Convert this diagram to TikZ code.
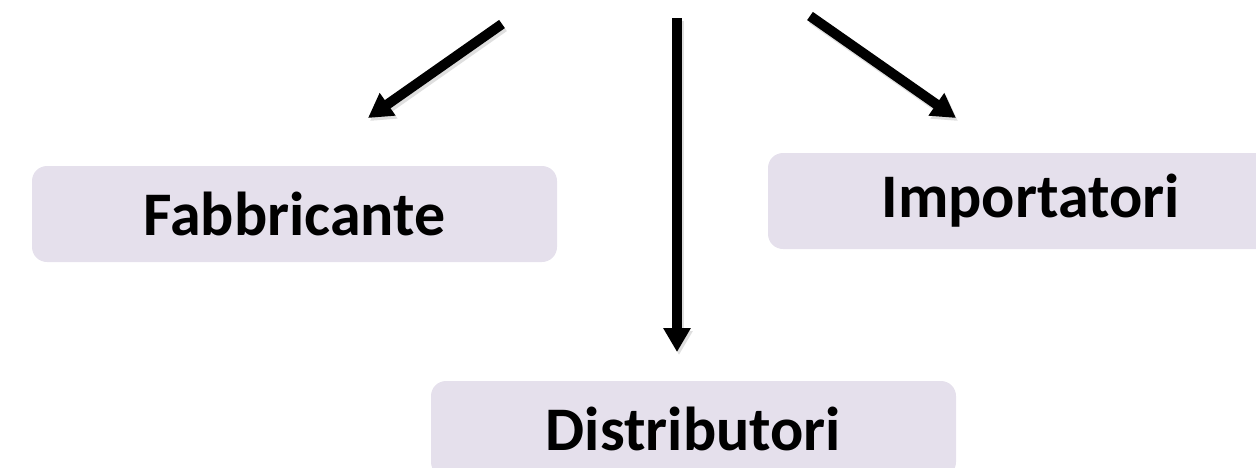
\documentclass[tikz,border=0pt]{standalone}
\usepackage{fontspec}
\setmainfont{Carlito}
\usetikzlibrary{arrows.meta}
\definecolor{boxfill}{RGB}{229,224,236}
\begin{document}
\begin{tikzpicture}[x=1pt,y=-1pt,
  box/.style={fill=boxfill,rounded corners=15pt,minimum width=525pt,minimum height=96pt,inner sep=0pt,
    font=\fontsize{62}{74}\selectfont\bfseries},
  arr/.style={line width=10pt,-{Triangle[width=26pt,length=24pt]}},
  shad/.style={line width=10pt,black!25,opacity=0.5,-{Triangle[width=26pt,length=24pt]}}]
\useasboundingbox (0,0) rectangle (1256,467);
\begin{scope}
\clip (0,0) rectangle (1256,467);
\node[box] (fab) at (294.5,214) {Fabbricante};
\node[box] (imp) at (1030.5,201) {Importatori};
\node[box] (dis) at (693.5,429) {Distributori};
\end{scope}
\coordinate (t1) at (502,24);
\coordinate (h1) at (368,118);
\coordinate (t2) at (677,18);
\coordinate (h2) at (677,352);
\coordinate (t3) at (810,16);
\coordinate (h3) at (956,118);
\draw[shad] ([shift={(2,3)}]t1) -- ([shift={(2,3)}]h1);
\draw[shad] ([shift={(2,3)}]t2) -- ([shift={(2,3)}]h2);
\draw[shad] ([shift={(2,3)}]t3) -- ([shift={(2,3)}]h3);
\draw[arr] (t1) -- (h1);
\draw[arr] (t2) -- (h2);
\draw[arr] (t3) -- (h3);
\end{tikzpicture}
\end{document}
